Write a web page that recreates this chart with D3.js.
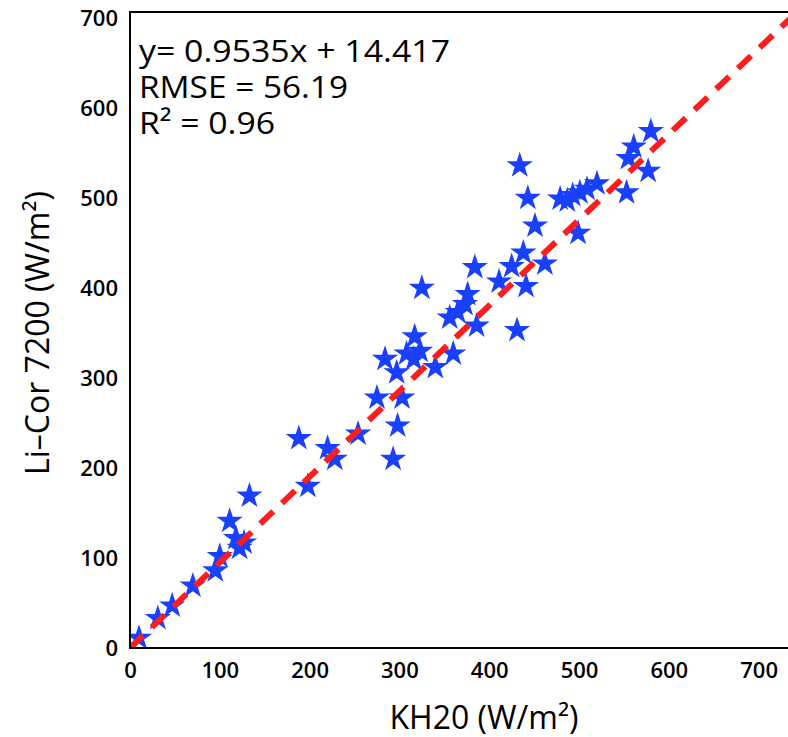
<!DOCTYPE html>
<html>
<head>
<meta charset="utf-8">
<script src="https://cdn.jsdelivr.net/npm/d3@7"></script>
<style>
  body { margin: 0; background: #fff; }
  svg { display: block; }
  text { font-family: "Open Sans", "DejaVu Sans", sans-serif; }
</style>
</head>
<body>
<svg id="chart" width="788" height="737"></svg>
<script>
// KH20 (x) values, W/m²
const kh20 = [10, 31, 47, 70, 95, 100, 111, 118, 127, 122, 133, 198, 188, 220, 228, 254,
  293, 298, 275, 303, 284, 297, 308, 317, 316, 323, 325, 340, 360, 356, 365, 373, 376,
  386, 384, 411, 425, 438, 441, 431, 462, 434, 443, 451, 479, 487, 493, 501, 509, 520,
  499, 553, 555, 561, 580, 577];
// Li-Cor 7200 (y) values, W/m²
const licor = [11, 33, 47, 69, 86, 102, 141, 122, 117, 111, 169, 180, 233, 222, 210, 238,
  210, 247, 278, 278, 321, 306, 327, 346, 321, 330, 400, 312, 327, 367, 373, 382, 393,
  358, 423, 407, 424, 439, 402, 353, 427, 536, 500, 469, 499, 497, 503, 506, 510, 516,
  461, 506, 544, 557, 574, 530];
// fitted line as drawn (endpoints)
const fitX = [0, 740];
const fitY = [0, 704];
const xTicks = [0, 100, 200, 300, 400, 500, 600, 700];
const yTicks = [0, 100, 200, 300, 400, 500, 600, 700];
const annotations = ["y= 0.9535x + 14.417", "RMSE = 56.19", "R² = 0.96"];
const xLabel = "KH20 (W/m²)";
const yLabel = "Li–Cor 7200 (W/m²)";

const svg = d3.select("#chart");
const mLeft = 130, mBottom = 648, mTop = 12, mRight = 788;

const x = d3.scaleLinear().domain([0, 700]).range([mLeft, mLeft + 700 * 0.898]);
const y = d3.scaleLinear().domain([0, 700]).range([mBottom, mBottom - 700 * 0.9]);

// clip
svg.append("clipPath").attr("id", "plotclip")
  .append("rect").attr("x", mLeft).attr("y", mTop).attr("width", mRight - mLeft).attr("height", mBottom - mTop);

const plot = svg.append("g").attr("clip-path", "url(#plotclip)");

// points
const pts = kh20.map((v, i) => ({ x: v, y: licor[i] }));
const star = d3.symbol().type(d3.symbolStar).size(215);
plot.selectAll("path.pt").data(pts).join("path")
  .attr("class", "pt")
  .attr("d", star)
  .attr("transform", d => `translate(${x(d.x)},${y(d.y)})`)
  .attr("fill", "#1a40ff");

// fit line
const fit = fitX.map((v, i) => [v, fitY[i]]);
plot.append("path")
  .attr("d", d3.line().x(d => x(d[0])).y(d => y(d[1]))(fit))
  .attr("fill", "none")
  .attr("stroke", "#ff1c1c")
  .attr("stroke-width", 6)
  .attr("stroke-dasharray", "18,12");

// axes (frame lines, no tick marks)
const xAxis = d3.axisBottom(x).tickValues(xTicks).tickSize(0).tickPadding(14);
const gx = svg.append("g").attr("transform", `translate(0,${mBottom})`).call(xAxis);
gx.select(".domain").remove();
gx.selectAll("text").attr("font-size", 22).attr("font-weight", 600)
  .attr("fill", "#000").attr("font-family", "Open Sans, sans-serif");

const yAxis = d3.axisLeft(y).tickValues(yTicks).tickSize(0).tickPadding(12);
const gy = svg.append("g").attr("transform", `translate(${mLeft},0)`).call(yAxis);
gy.select(".domain").remove();
gy.selectAll("text").attr("font-size", 22).attr("font-weight", 600)
  .attr("fill", "#000").attr("font-family", "Open Sans, sans-serif");

svg.append("path")
  .attr("d", `M${mRight},${mTop}H${mLeft}V${mBottom}H${mRight}`)
  .attr("fill", "none").attr("stroke", "#000").attr("stroke-width", 2);

// annotation
const annWidths = [311, 209, 136];
svg.selectAll("text.ann").data(annotations).join("text")
  .attr("class", "ann")
  .attr("x", 139)
  .attr("y", (d, i) => 62 + i * 36)
  .attr("font-size", 31)
  .attr("font-weight", 500)
  .attr("fill", "#000")
  .attr("textLength", (d, i) => annWidths[i])
  .attr("lengthAdjust", "spacingAndGlyphs")
  .text(d => d);

// axis labels
svg.append("text").attr("x", 484).attr("y", 729)
  .attr("text-anchor", "middle").attr("font-size", 32).attr("font-weight", 500)
  .attr("fill", "#000").text(xLabel);

svg.append("text").attr("transform", "translate(49,333) rotate(-90)")
  .attr("text-anchor", "middle").attr("font-size", 32).attr("font-weight", 500)
  .attr("fill", "#000").text(yLabel);
</script>
</body>
</html>
